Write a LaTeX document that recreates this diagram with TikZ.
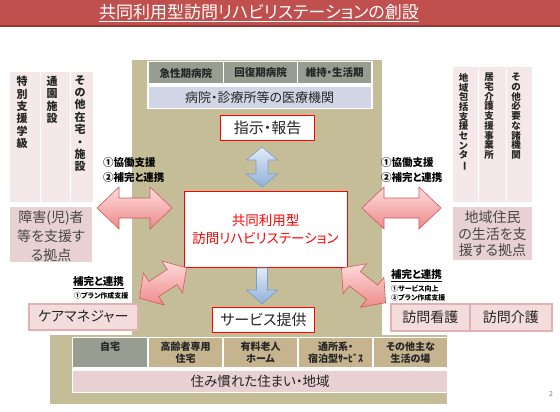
\documentclass[tikz,border=0pt]{standalone}
\usepackage{fontspec}
\setmainfont{Noto Sans CJK JP}[RawFeature=+palt]
\definecolor{titlered}{HTML}{C0504D}
\definecolor{titledark}{HTML}{943634}
\definecolor{tanbg}{HTML}{C4BD97}
\definecolor{hdrgray}{HTML}{979E91}
\definecolor{medblue}{HTML}{D0D6E5}
\definecolor{pinklt}{HTML}{F4E8EA}
\definecolor{pinkmd}{HTML}{E8D1D3}
\definecolor{cmfill}{HTML}{F2DCDC}
\definecolor{cmborder}{HTML}{E0B0B2}
\definecolor{hdrtan}{HTML}{C5B48E}
\definecolor{txtdark}{HTML}{262626}
\definecolor{arrpinktop}{HTML}{FDDCDC}
\definecolor{arrpinkbot}{HTML}{EE8A8A}
\definecolor{arrpinkline}{HTML}{CC5C5C}
\definecolor{arrbluetop}{HTML}{E2EBF7}
\definecolor{arrbluebot}{HTML}{8FB0DA}
\definecolor{arrblueline}{HTML}{7C9CC8}
\newcommand{\BlkDArrow}[8]{%
  \begin{scope}[shift={(#2,#3)},rotate=#4]
  \path[#1] (-#5,0) -- (-#5+#8,-#7) -- (-#5+#8,-#6) -- (#5-#8,-#6) -- (#5-#8,-#7) -- (#5,0)
    -- (#5-#8,#7) -- (#5-#8,#6) -- (-#5+#8,#6) -- (-#5+#8,#7) -- cycle;
  \end{scope}}
\tikzset{
  txt/.style={inner sep=0pt, text=txtdark},
  titletxt/.style={inner sep=0pt, text=white, font=\fontsize{17}{19}\selectfont},
  hcell/.style={fill=hdrgray, inner sep=0pt, anchor=north west, text=txtdark, font=\fontsize{10.5}{12}\selectfont\bfseries},
  bcell/.style={fill=hdrtan, inner sep=0pt, anchor=north west},
  btxt/.style={inner sep=0pt, anchor=north, align=center, text=txtdark, font=\fontsize{10}{12}\selectfont\bfseries},
  colL/.style={fill=pinklt, inner sep=0pt, anchor=north west},
  vtxtL/.style={inner sep=0pt, anchor=north, align=center, text=txtdark, font=\fontsize{11}{12.4}\selectfont\bfseries},
  vtxtR/.style={inner sep=0pt, anchor=north, align=center, text=txtdark, font=\fontsize{9.5}{9.7}\selectfont\bfseries},
  hubbox/.style={fill=pinkmd, inner sep=0pt, anchor=north west},
  hubtxt/.style={inner sep=0pt, align=center, text=txtdark!85!white},
  redbox/.style={fill=white, draw=red, line width=1pt, inner sep=0pt, anchor=north west},
  cmbox/.style={fill=cmfill, draw=cmborder, line width=1.6pt, inner sep=0pt, anchor=north west},
  lbl/.style={inner sep=0pt, anchor=west, text=black, font=\fontsize{10.5}{12}\selectfont\bfseries},
  smlbl/.style={inner sep=0pt, anchor=west, text=black, font=\fontsize{7}{8}\selectfont\bfseries},
  pinkarr/.style={top color=arrpinktop, bottom color=arrpinkbot, draw=arrpinkline, line width=0.6pt},
  bluearr/.style={top color=arrbluetop, bottom color=arrbluebot, draw=arrblueline, line width=0.6pt},
}
\begin{document}
\begin{tikzpicture}[x=1pt,y=-1pt]
\useasboundingbox (0,0) rectangle (560,412);
\fill[white] (0,0) rectangle (560,412);
% title
\fill[titlered] (0,0) rectangle (560,25);
\fill[titledark] (0,25) rectangle (560,27.3);
\node[titletxt] (title) at (259,12) {共同利用型訪問リハビリステーションの創設};
\draw[white, line width=0.9pt] ([yshift=-1.5pt]title.south west) -- ([yshift=-1.5pt]title.south east);
% tan background
\fill[tanbg] (132,60) rectangle (382,335);
\fill[tanbg] (50,335) rectangle (447,404);
% top table
\fill[white] (147,61) rectangle (373,109);
\node[hcell, minimum width=74.5pt, minimum height=21pt] (h1) at (148.3,62.3) {急性期病院};
\node[hcell, minimum width=73pt, minimum height=21pt] (h2) at (224,62.3) {回復期病院};
\node[hcell, minimum width=73pt, minimum height=21pt] (h3) at (298,62.3) {維持・生活期};
\node[fill=medblue, inner sep=0pt, anchor=north west, minimum width=222.4pt, minimum height=21pt, text=txtdark, font=\fontsize{13}{15}\selectfont] (med) at (148.3,86.7) {病院・診療所等の医療機関};
% instruction box
\node[redbox, minimum width=94pt, minimum height=25pt] (shiji) at (220,115) {};
\node[txt, font=\fontsize{15}{17}\selectfont] (shijit) at (shiji.center) {指示・報告};
% main box
\node[redbox, line width=1.2pt, minimum width=163pt, minimum height=76pt] (main) at (184,191) {};
\node[inner sep=0pt, text=red, align=center, font=\fontsize{13.5}{18}\selectfont] (maint) at (265.5,229) {共同利用型\\訪問リハビリステーション};
% service box
\node[redbox, minimum width=102pt, minimum height=25pt] (svc) at (212,307) {};
\node[txt, font=\fontsize{15}{17}\selectfont] (svct) at (svc.center) {サービス提供};
% left columns
\node[colL, minimum width=30pt, minimum height=130pt] (lc1) at (10,72) {};
\node[colL, minimum width=29pt, minimum height=130pt] (lc2) at (41,72) {};
\node[colL, minimum width=22pt, minimum height=130pt] (lc3) at (71,72) {};
\node[vtxtL] (lt1) at (22,76) {特\\別\\支\\援\\学\\級};
\node[vtxtL] (lt2) at (52,76) {通\\園\\施\\設};
\node[vtxtL] (lt3) at (80,75) {そ\\の\\他\\在\\宅\\・\\施\\設};
\node[hubbox, minimum width=82pt, minimum height=55pt] (lhub) at (10,207) {};
\node[hubtxt, font=\fontsize{14}{19}\selectfont] (lhubt) at (51,236) {障害(児)者\\等を支援す\\る拠点};
% right columns
\node[colL, minimum width=24.5pt, minimum height=135pt] (rc1) at (453,67) {};
\node[colL, minimum width=27pt, minimum height=135pt] (rc2) at (478.5,67) {};
\node[colL, minimum width=25.5pt, minimum height=135pt] (rc3) at (506.5,67) {};
\node[vtxtR] (rt1) at (463.5,73) {地\\域\\包\\括\\支\\援\\セ\\ン\\タ\\\rotatebox[origin=c]{-90}{ー}};
\node[vtxtR] (rt2) at (489,73) {居\\宅\\介\\護\\支\\援\\事\\業\\所};
\node[vtxtR] (rt3) at (516,73) {そ\\の\\他\\必\\要\\な\\諸\\機\\関};
\node[hubbox, minimum width=79pt, minimum height=53pt] (rhub) at (453,207) {};
\node[hubtxt, font=\fontsize{14}{16.5}\selectfont] (rhubt) at (492.5,234) {地域住民\\の生活を支\\援する拠点};
% side labels
\node[lbl] (ll1) at (103,163) {①協働支援};
\node[lbl] (ll2) at (103,177.5) {②補完と連携};
\node[lbl] (rl1) at (381,163) {①協働支援};
\node[lbl] (rl2) at (381,177.5) {②補完と連携};
% lower left
\node[lbl] (cml) at (73,282) {補完と連携};
\draw[black, line width=0.6pt] ([yshift=-1.2pt]cml.south west) -- ([yshift=-1.2pt]cml.south east);
\node[smlbl] (cms) at (74,295.5) {①プラン作成支援};
\node[cmbox, minimum width=109pt, minimum height=26pt] (cm) at (28,303) {};
\node[txt, font=\fontsize{14}{16}\selectfont] (cmt) at (cm.center) {ケアマネジャー};
% lower right
\node[lbl] (vnl) at (391,275) {補完と連携};
\draw[black, line width=0.6pt] ([yshift=-1.2pt]vnl.south west) -- ([yshift=-1.2pt]vnl.south east);
\node[smlbl] (vns1) at (391,288.5) {①サービス向上};
\node[smlbl] (vns2) at (391,297.5) {②プラン作成支援};
\node[cmbox, minimum width=79pt, minimum height=27pt] (vn) at (390,303) {};
\node[cmbox, minimum width=82pt, minimum height=27pt] (vc) at (469,303) {};
\node[txt, font=\fontsize{14}{16}\selectfont] (vnt) at (vn.center) {訪問看護};
\node[txt, font=\fontsize{14}{16}\selectfont] (vct) at (vc.center) {訪問介護};
% bottom table
\fill[white] (72,337) rectangle (448,393);
\node[bcell, fill=hdrgray, minimum width=74pt, minimum height=29pt] (b1) at (73,338) {};
\node[bcell, minimum width=73pt, minimum height=29pt] (b2) at (149,338) {};
\node[bcell, minimum width=73pt, minimum height=29pt] (b3) at (224,338) {};
\node[bcell, minimum width=73pt, minimum height=29pt] (b4) at (299,338) {};
\node[bcell, minimum width=73pt, minimum height=29pt] (b5) at (374,338) {};
\node[btxt] (bt1) at (110,341.5) {自宅};
\node[btxt] (bt2) at (185.5,341.5) {高齢者専用\\住宅};
\node[btxt] (bt3) at (260.5,341.5) {有料老人\\ホーム};
\node[btxt] (bt4) at (335.5,341.5) {通所系・\\宿泊型ｻｰﾋﾞｽ};
\node[btxt] (bt5) at (410.5,341.5) {その他主な\\生活の場};
\node[hubbox, minimum width=374pt, minimum height=21pt] (home) at (73,370.5) {};
\node[txt, font=\fontsize{13.5}{15}\selectfont] (homet) at (home.center) {住み慣れた住まい・地域};
% page number
\node[inner sep=0pt, text=gray, font=\fontsize{7}{8}\selectfont] (pg) at (551,394) {2};
% arrows
\BlkDArrow{pinkarr}{134.5}{208}{0}{37.5}{10}{21}{22}
\BlkDArrow{pinkarr}{401.5}{208}{0}{39.5}{10}{21}{22}
\BlkDArrow{pinkarr}{163}{283}{33}{28}{9}{19}{17}
\BlkDArrow{pinkarr}{363.5}{285.5}{-38}{28}{9}{19}{17}
\BlkDArrow{bluearr}{262}{167}{90}{20}{6}{15.5}{13}
\path[bluearr] (256.5,268) -- (267.5,268) -- (267.5,290) -- (277.5,290) -- (262,304)
  -- (246.5,290) -- (256.5,290) -- cycle;
\end{tikzpicture}
\end{document}
